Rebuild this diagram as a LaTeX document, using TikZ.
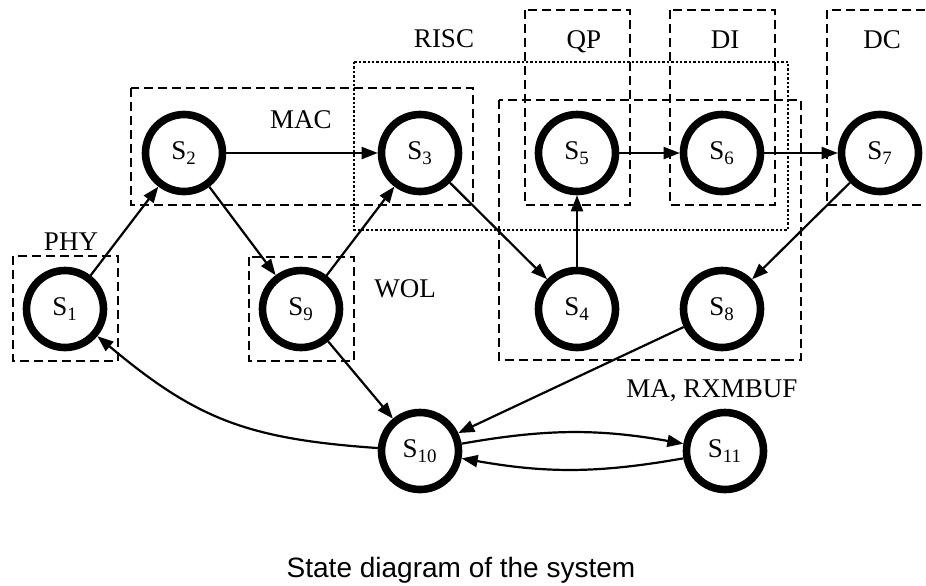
\documentclass[tikz,border=0pt]{standalone}
\usepackage{fontspec}
\setmainfont{Liberation Serif}
\newfontfamily\capfont{Liberation Sans}
\usetikzlibrary{arrows.meta,positioning}

\begin{document}
\begin{tikzpicture}[x=0.5pt, y=-0.5pt,
    state/.style={draw, circle, line width=3.8pt, minimum size=38.5pt, inner sep=0pt, font=\fontsize{13.5}{16}\selectfont},
    grp/.style={draw, line width=1.2pt, dash pattern=on 4.5pt off 2.5pt},
    lbl/.style={anchor=base, font=\fontsize{13.5}{16}\selectfont},
    edge/.style={-{Triangle[length=8pt,width=6pt]}, line width=1.1pt}]
    \useasboundingbox (0,0) rectangle (926,585);
    % groups
    \draw[grp] (13,256) rectangle (118,361);
    \draw[grp] (131,88) rectangle (473,205);
    \draw[grp] (249,257) rectangle (354,361);
    \draw[grp] (525,10) rectangle (630,205);
    \draw[grp] (670,10) rectangle (775,205);
    \draw[grp] (827,10) rectangle (940,205);
    \draw[grp] (499,100) rectangle (801,360);
    \draw[line width=1.2pt, dash pattern=on 1.2pt off 1pt] (354,62) rectangle (788,230);
    \node[lbl] (phy) at (71,250) {PHY};
    \node[lbl] (mac) at (301,128) {MAC};
    \node[lbl] (wol) at (405,297) {WOL};
    \node[lbl] (risc) at (444,47) {RISC};
    \node[lbl] (qp) at (584,48) {QP};
    \node[lbl] (di) at (725,48) {DI};
    \node[lbl] (dc) at (882,48) {DC};
    \node[lbl] (ma) at (712,397) {MA, RXMBUF};
    % states
    \node[state] (s1) at (65,309) {S\textsubscript{1}};
    \node[state] (s2) at (184,153) {S\textsubscript{2}};
    \node[state] (s3) at (420,153) {S\textsubscript{3}};
    \node[state] (s9) at (301,309) {S\textsubscript{9}};
    \node[state] (s5) at (577,153) {S\textsubscript{5}};
    \node[state] (s6) at (722,153) {S\textsubscript{6}};
    \node[state] (s7) at (880,153) {S\textsubscript{7}};
    \node[state] (s4) at (577,309) {S\textsubscript{4}};
    \node[state] (s8) at (722,309) {S\textsubscript{8}};
    \node[state] (s10) at (420,451) {S\textsubscript{10}};
    \node[state] (s11) at (725,451) {S\textsubscript{11}};
    % transitions
    \draw[edge] (s1) -- (s2);
    \draw[edge] (s2) -- (s3);
    \draw[edge] (s2) -- (s9);
    \draw[edge] (s9) -- (s3);
    \draw[edge] (s3) -- (s4);
    \draw[edge] (s4) -- (s5);
    \draw[edge] (s5) -- (s6);
    \draw[edge] (s6) -- (s7);
    \draw[edge] (s7) -- (s8);
    \draw[edge] (s8) -- (s10);
    \draw[edge] (s9) -- (s10);
    \draw[edge] (s10) to[out=176, in=-40, looseness=1.1] (s1);
    \draw[edge] (s10) to[bend left=10] (s11);
    \draw[edge] (s11) to[bend left=10] (s10);
    \node[anchor=base, font=\capfont\fontsize{14}{17}\selectfont] (cap) at (461,577) {State diagram of the system};
\end{tikzpicture}
\end{document}
